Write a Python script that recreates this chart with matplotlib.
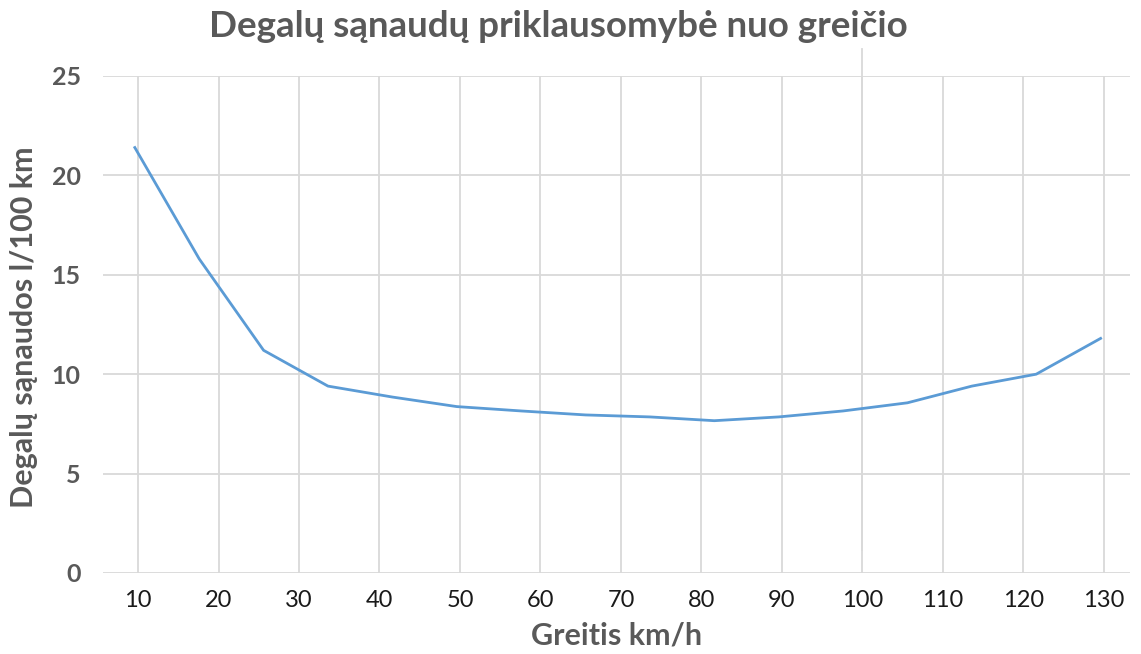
import matplotlib
matplotlib.use("Agg")
from matplotlib import pyplot as plt

# speed (km/h) and fuel consumption (l/100 km)
greitis = [9.6, 17.6, 25.6, 33.6, 41.6, 49.6, 57.6, 65.6,
           73.6, 81.6, 89.6, 97.6, 105.6, 113.6, 121.6, 129.6]
sanaudos = [21.4, 15.8, 11.2, 9.4, 8.85, 8.37, 8.15, 7.95,
            7.85, 7.66, 7.85, 8.15, 8.56, 9.4, 10.0, 11.8]
x_ticks = [10, 20, 30, 40, 50, 60, 70, 80, 90, 100, 110, 120, 130]
y_ticks = [0, 5, 10, 15, 20, 25]

plt.rcParams['font.family'] = ['Lato', 'DejaVu Sans']
grey = '#595959'
grid_c = '#d9d9d9'

fig = plt.figure(figsize=(11.41, 6.54), dpi=100)
ax = fig.add_axes([0.0903, 0.1239, 0.8997, 0.7599])

ax.plot(greitis, sanaudos, color='#5b9bd5', lw=2.0, solid_joinstyle='round', zorder=3)

ax.set_xlim(5.65, 133.2)
ax.set_ylim(0, 25)
ax.set_xticks(x_ticks)
ax.set_yticks(y_ticks)
ax.grid(True, color=grid_c, lw=1.3)
# odd stray gridline at 100 in the original
ax.axvline(100, ymin=0.046, ymax=1.054, color=grid_c, lw=1.3, clip_on=False)
for s in ax.spines.values():
    s.set_visible(False)
ax.tick_params(length=0)
ax.tick_params(axis='x', labelsize=17, labelcolor='#1a1a1a', pad=12)
ax.tick_params(axis='y', labelsize=18, labelcolor=grey, pad=16)
for t in ax.get_yticklabels():
    t.set_fontweight('bold')

ax.set_xlabel('Greitis km/h', fontsize=22, fontweight='bold', color=grey)
ax.xaxis.set_label_coords(0.5, -0.097)
ax.set_ylabel('Degalų sąnaudos l/100 km', fontsize=22, fontweight='bold', color=grey)
ax.yaxis.set_label_coords(-0.063, 0.495)
fig.suptitle('Degalų sąnaudų priklausomybė nuo greičio', fontsize=26.5, fontweight='bold',
             color=grey, x=0.489, y=0.985)

fig.savefig('out.png', dpi=100)
